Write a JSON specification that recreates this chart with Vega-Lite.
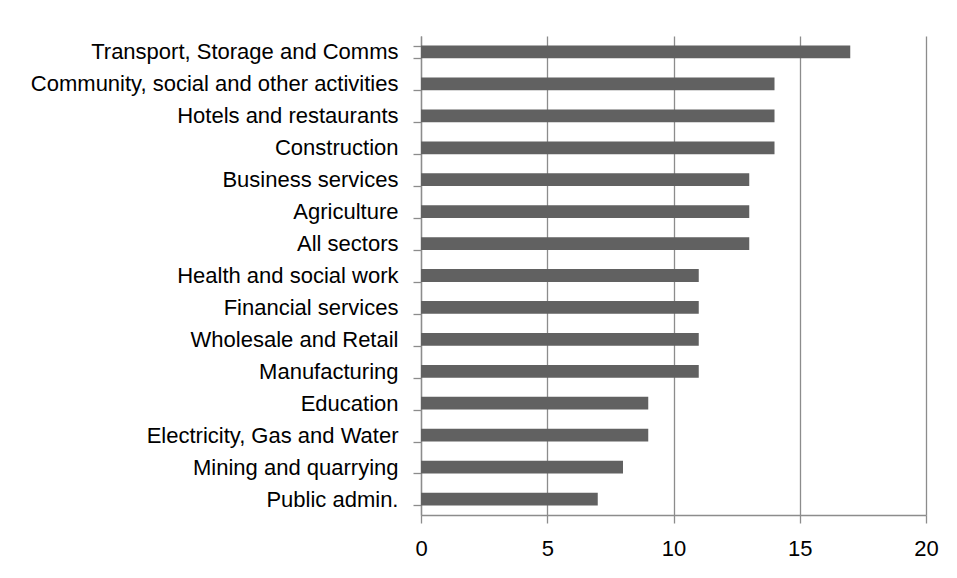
{
  "$schema": "https://vega.github.io/schema/vega-lite/v6.json",
  "autosize": {"type": "none"},
  "padding": {"left": 421, "top": 36, "right": 31, "bottom": 63},
  "width": 505,
  "height": 479,
  "background": "white",
  "config": {"view": {"stroke": null}, "font": "Liberation Sans"},
  "data": {
    "values": [
      {"sector": "Transport, Storage and Comms", "value": 17},
      {"sector": "Community, social and other activities", "value": 14},
      {"sector": "Hotels and restaurants", "value": 14},
      {"sector": "Construction", "value": 14},
      {"sector": "Business services", "value": 13},
      {"sector": "Agriculture", "value": 13},
      {"sector": "All sectors", "value": 13},
      {"sector": "Health and social work", "value": 11},
      {"sector": "Financial services", "value": 11},
      {"sector": "Wholesale and Retail", "value": 11},
      {"sector": "Manufacturing", "value": 11},
      {"sector": "Education", "value": 9},
      {"sector": "Electricity, Gas and Water", "value": 9},
      {"sector": "Mining and quarrying", "value": 8},
      {"sector": "Public admin.", "value": 7}
    ]
  },
  "mark": {"type": "bar", "color": "#616161"},
  "encoding": {
    "y": {
      "field": "sector",
      "type": "nominal",
      "sort": null,
      "title": null,
      "scale": {"paddingInner": 0.6, "paddingOuter": 0.3},
      "axis": {
        "tickBand": "extent",
        "domainColor": "#8c8c8c",
        "domainWidth": 1.3,
        "tickColor": "#8c8c8c",
        "tickWidth": 1.3,
        "tickSize": 8,
        "labelPadding": 15,
        "labelFontSize": 22,
        "labelColor": "#000000",
        "labelFont": "Liberation Sans",
        "labelLimit": 600,
        "grid": false
      }
    },
    "x": {
      "field": "value",
      "type": "quantitative",
      "title": null,
      "scale": {"domain": [0, 20], "nice": false},
      "axis": {
        "values": [0, 5, 10, 15, 20],
        "grid": true,
        "gridColor": "#8c8c8c",
        "gridWidth": 1.3,
        "domainColor": "#8c8c8c",
        "domainWidth": 1.3,
        "tickColor": "#8c8c8c",
        "tickWidth": 1.3,
        "tickSize": 8,
        "labelPadding": 15,
        "labelFontSize": 22,
        "labelColor": "#000000",
        "labelFont": "Liberation Sans",
        "labelFlush": false
      }
    }
  }
}
